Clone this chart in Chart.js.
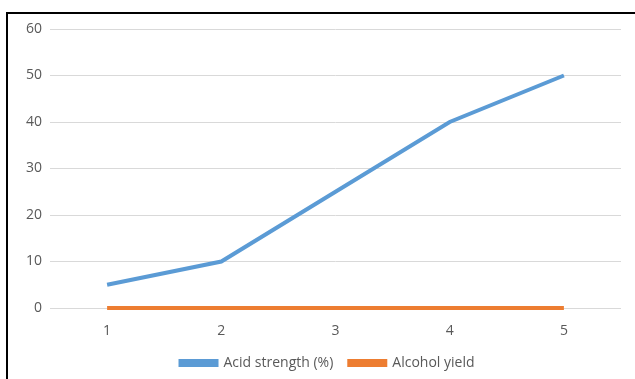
<!DOCTYPE html>
<html>
<head>
<meta charset="utf-8">
<script src="https://cdn.jsdelivr.net/npm/chart.js@4/dist/chart.umd.min.js"></script>
<style>
  html, body { margin: 0; padding: 0; background: #fff; overflow: hidden; }
  #frame {
    position: absolute; left: 6px; top: 12px; width: 640px; height: 380px;
    border-left: 2px solid #000; border-top: 2px solid #000;
  }
  #wrap { position: absolute; left: 0; top: 0; width: 635px; height: 379px; }
</style>
</head>
<body>
<div id="frame"></div>
<div id="wrap"><canvas id="chart"></canvas></div>
<script>
const categories = ["1", "2", "3", "4", "5"];
const acidStrength = [5, 10, 25, 40, 50];
const alcoholYield = [0, 0, 0, 0, 0];
const seriesNames = ["Acid strength (%)", "Alcohol yield"];

const FONT = "'Open Sans', Lato, sans-serif";
const textColor = '#595959';

// nudge the legend a little to the right, like the original
const legendShift = {
    id: 'legendShift',
    afterLayout(chart) {
        chart.legend.left += 12;
        chart.legend.right += 12;
    }
};

const ctx = document.getElementById('chart').getContext('2d');
const chart = new Chart(ctx, {
    type: 'line',
    data: {
        labels: categories,
        datasets: [{
            label: seriesNames[0],
            data: acidStrength,
            borderColor: '#5B9BD5',
            backgroundColor: '#5B9BD5',
            borderWidth: 4,
            pointRadius: 0,
            tension: 0,
            clip: false
        }, {
            label: seriesNames[1],
            data: alcoholYield,
            borderColor: '#ED7D31',
            backgroundColor: '#ED7D31',
            borderWidth: 4,
            pointRadius: 0,
            tension: 0,
            clip: false
        }]
    },
    options: {
        responsive: true,
        maintainAspectRatio: false,
        animation: false,
        layout: { padding: { left: 10, right: 14, top: 29, bottom: -1 } },
        plugins: {
            tooltip: { enabled: false },
            legend: {
                position: 'bottom',
                labels: {
                    boxWidth: 36,
                    boxHeight: 4,
                    padding: 16,
                    color: textColor,
                    font: { family: FONT, size: 14 }
                }
            }
        },
        scales: {
            x: {
                offset: true,
                grid: { display: false, drawTicks: false },
                border: { display: false },
                ticks: { color: textColor, padding: 15, font: { family: FONT, size: 14 } },
                afterFit: function (axis) { axis.height = 32; }
            },
            y: {
                min: 0,
                max: 60,
                ticks: { stepSize: 10, color: textColor, padding: 8, font: { family: FONT, size: 14 } },
                grid: { color: '#d9d9d9', lineWidth: 1, drawTicks: false },
                border: { display: false },
                afterFit: function (axis) { axis.width = 40; }
            }
        }
    },
    plugins: [legendShift]
});
</script>
</body>
</html>
